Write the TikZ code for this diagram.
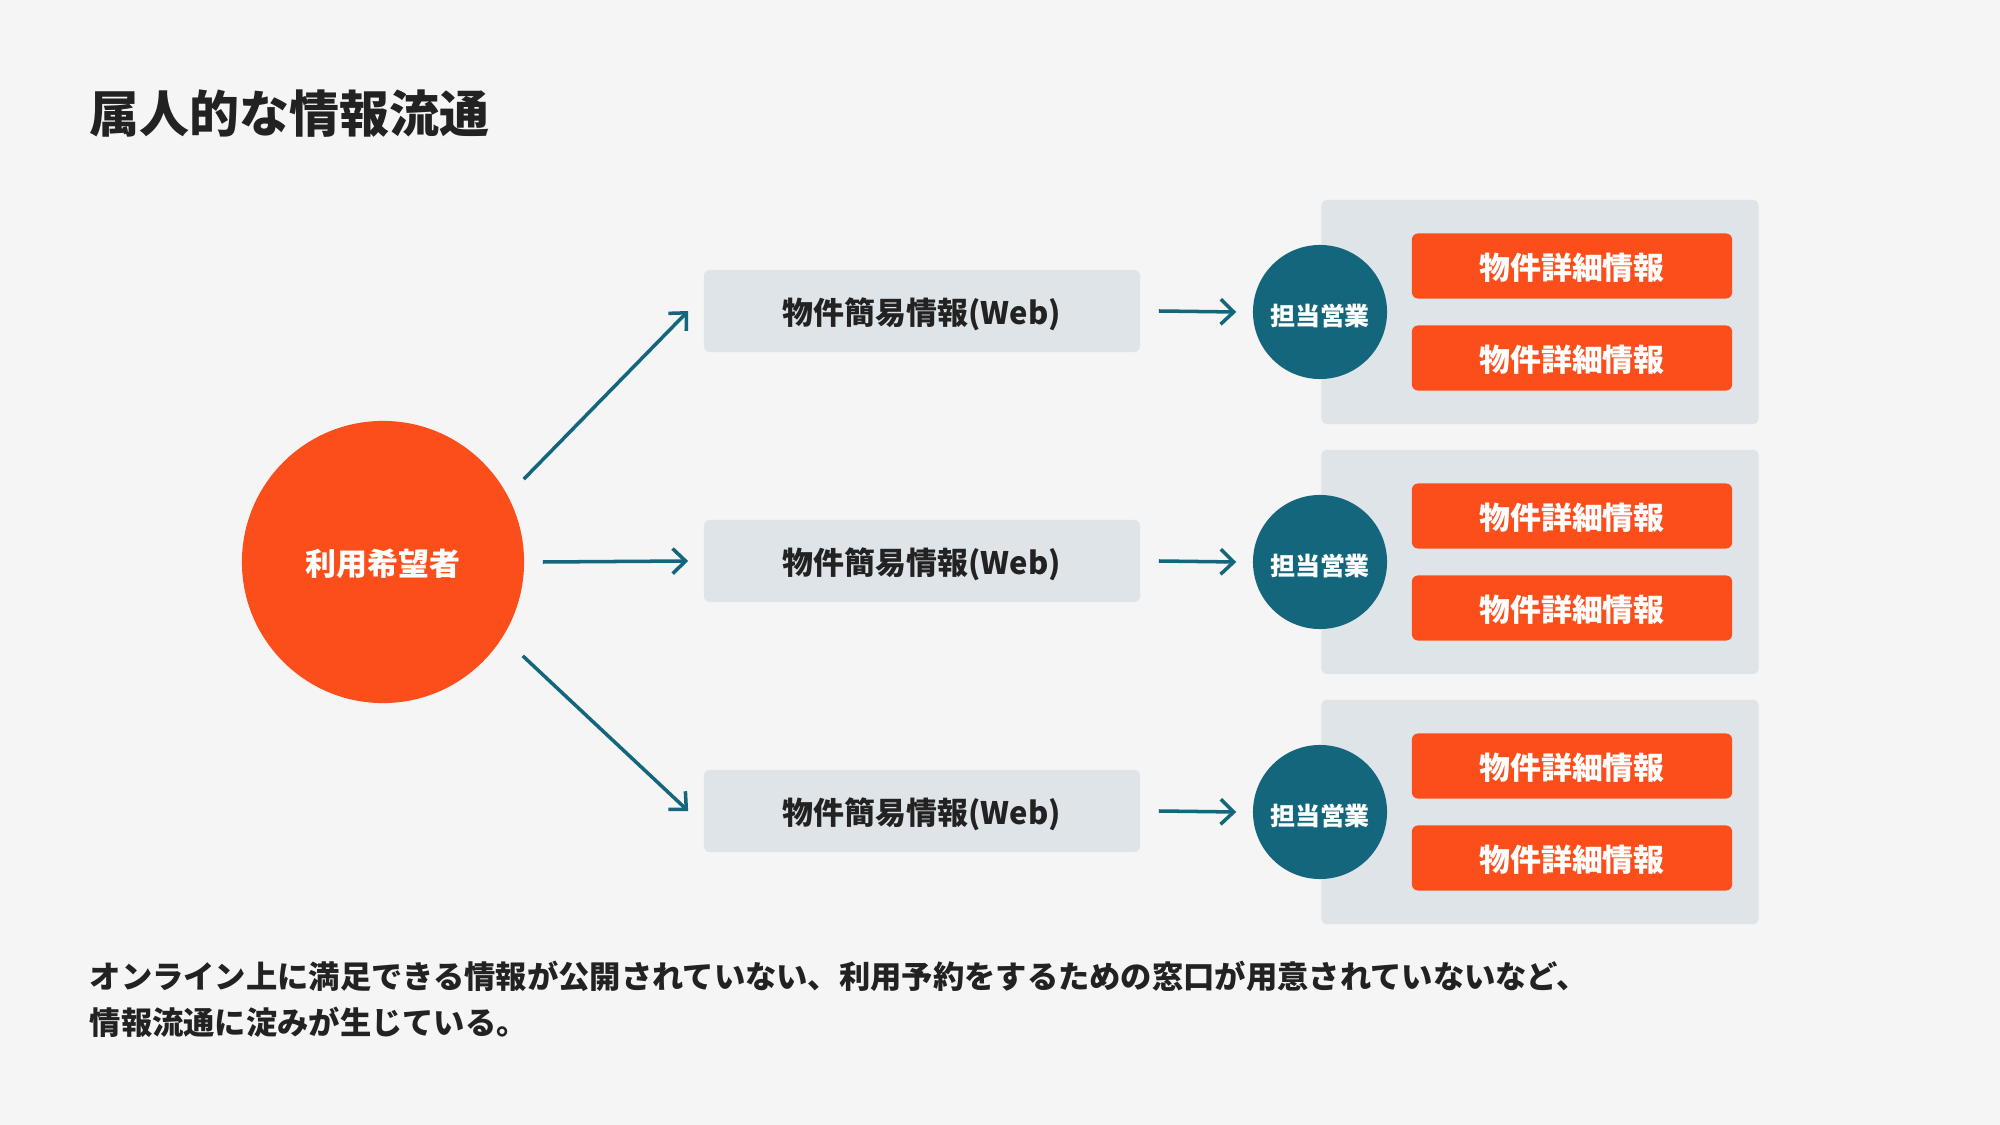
\documentclass[tikz,border=0pt]{standalone}
\usepackage{fontspec}
\setmainfont{Noto Sans CJK JP}
\usepackage{xcolor}
\usepackage{tikz}
\usetikzlibrary{positioning, arrows.meta}
\definecolor{bgpaper}{HTML}{F5F5F5}
\definecolor{accent}{HTML}{FC4E1B}
\definecolor{salesteal}{HTML}{14667C}
\definecolor{panelgray}{HTML}{DEE4E8}
\definecolor{inkdark}{HTML}{222222}

\begin{document}
\begin{tikzpicture}[x=0.01cm, y=-0.01cm,
    titletext/.style={inner sep=0pt, text=inkdark, font=\bfseries\fontsize{14.2}{17}\selectfont},
    bodytext/.style={inner sep=0pt, text=inkdark, align=left, font=\bfseries\fontsize{8.9}{13.1}\selectfont},
    userball/.style={circle, fill=accent, text=white, minimum size=2.82cm, text height=0.8em, text depth=0.04em, font=\bfseries\fontsize{8.8}{10}\selectfont},
    webbox/.style={rectangle, rounded corners=0.6mm, fill=panelgray, text=inkdark, minimum width=4.36cm, minimum height=0.82cm, text height=0.8em, text depth=0.04em, font=\bfseries\fontsize{8.8}{10}\selectfont},
    panel/.style={rectangle, rounded corners=0.5mm, fill=panelgray, minimum width=4.37cm, minimum height=2.24cm},
    salesball/.style={circle, fill=salesteal, text=white, minimum size=1.34cm, inner sep=0pt, text height=0.8em, text depth=0.04em, font=\bfseries\fontsize{7.1}{8}\selectfont},
    detailbox/.style={rectangle, rounded corners=0.6mm, fill=accent, text=white, minimum width=3.2cm, minimum height=0.65cm, text height=0.8em, text depth=0.04em, font=\bfseries\fontsize{8.8}{10}\selectfont},
    flow/.style={draw=salesteal, line width=1pt, -{Straight Barb[length=1.3mm, width=2.5mm]}}]
    \fill[bgpaper] (0,0) rectangle (2000,1125);
    \node[titletext, anchor=west] (title) at (89,114) {属人的な情報流通};
    \node[userball] (user) at (383,562) {利用希望者};
    \node[webbox] (webA) at (922,311) {物件簡易情報(Web)};
    \node[webbox] (webB) at (922,561) {物件簡易情報(Web)};
    \node[webbox] (webC) at (922,811) {物件簡易情報(Web)};
    \node[panel] (panelA) at (1540,312) {};
    \node[panel] (panelB) at (1540,562) {};
    \node[panel] (panelC) at (1540,812) {};
    \node[salesball] (salesA) at (1320,312) {担当営業};
    \node[salesball] (salesB) at (1320,562) {担当営業};
    \node[salesball] (salesC) at (1320,812) {担当営業};
    \node[detailbox] (detailA1) at (1572,266) {物件詳細情報};
    \node[detailbox] (detailA2) at (1572,358) {物件詳細情報};
    \node[detailbox] (detailB1) at (1572,516) {物件詳細情報};
    \node[detailbox] (detailB2) at (1572,608) {物件詳細情報};
    \node[detailbox] (detailC1) at (1572,766) {物件詳細情報};
    \node[detailbox] (detailC2) at (1572,858) {物件詳細情報};
    \draw[flow] ([shift={(18,-12)}]user.30) -- ([xshift=-1.5mm]webA.west);
    \draw[flow] ([xshift=1.8mm]user.east) -- ([xshift=-1.5mm]webB.west);
    \draw[flow] ([shift={(17,23)}]user.-30) -- ([xshift=-1.5mm]webC.west);
    \draw[flow] ([xshift=1.8mm]webA.east) -- ([xshift=-1.6mm]salesA.west);
    \draw[flow] ([xshift=1.8mm]webB.east) -- ([xshift=-1.6mm]salesB.west);
    \draw[flow] ([xshift=1.8mm]webC.east) -- ([xshift=-1.6mm]salesC.west);
    \node[bodytext, anchor=west] (note) at (89,999) {オンライン上に満足できる情報が公開されていない、利用予約をするための窓口が用意されていないなど、\\情報流通に淀みが生じている。};
\end{tikzpicture}
\end{document}
